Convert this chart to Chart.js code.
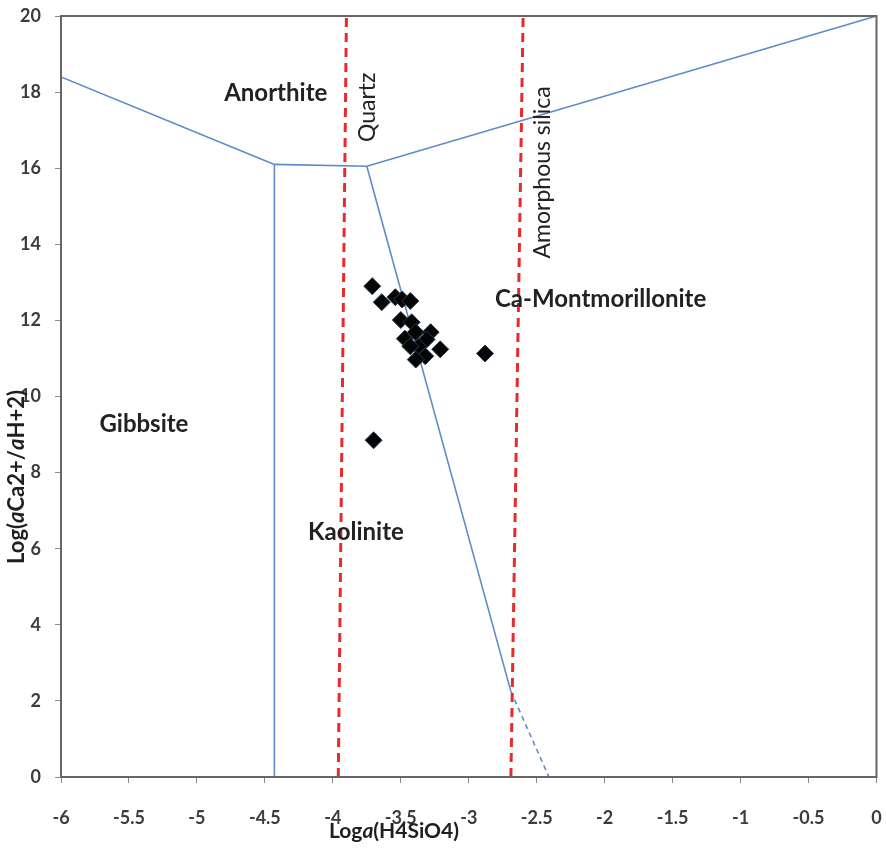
<!DOCTYPE html>
<html>
<head>
<meta charset="utf-8">
<title>Ca stability diagram</title>
<script src="https://cdn.jsdelivr.net/npm/chart.js@4.4.1/dist/chart.umd.min.js"></script>
<style>
  html, body { margin: 0; padding: 0; background: #ffffff; }
  #wrap { width: 886px; height: 848px; position: relative; }
</style>
</head>
<body>
<div id="wrap"><canvas id="mycanvas"></canvas></div>
<script>
// water samples: log a(H4SiO4) and log(aCa2+/aH+2)
var sampleSi = [-3.71, -3.64, -3.54, -3.49, -3.43, -3.50, -3.42, -3.47, -3.39, -3.28, -3.31, -3.37, -3.21, -3.32, -3.39, -3.43, -2.88, -3.70];
var sampleCa = [12.90, 12.48, 12.61, 12.55, 12.51, 12.01, 11.95, 11.52, 11.69, 11.69, 11.50, 11.31, 11.24, 11.06, 10.97, 11.32, 11.13, 8.85];

// phase boundaries (x = log a H4SiO4, y = log aCa/aH2)
var anorthiteGibbsiteX = [-6, -4.43];
var anorthiteGibbsiteY = [18.4, 16.1];
var gibbsiteKaoliniteX = [-4.43, -4.43];
var gibbsiteKaoliniteY = [16.1, 0];
var anorthiteKaoliniteX = [-4.43, -3.75];
var anorthiteKaoliniteY = [16.1, 16.05];
var anorthiteMontX = [-3.75, 0];
var anorthiteMontY = [16.05, 20];
var kaoliniteMontX = [-3.75, -2.69];
var kaoliniteMontY = [16.05, 2.25];
var kaoliniteMontExtX = [-2.69, -2.41];
var kaoliniteMontExtY = [2.25, 0];

// silica saturation lines
var quartzX = [-3.96, -3.90];
var quartzY = [0, 20];
var amorphousX = [-2.69, -2.60];
var amorphousY = [0, 20];

// field names
var fieldNames = ['Anorthite', 'Gibbsite', 'Kaolinite', 'Ca-Montmorillonite'];
var fieldX = [-4.42, -5.39, -3.83, -2.03];
var fieldY = [17.97, 9.26, 6.42, 12.55];
var silicaNames = ['Quartz', 'Amorphous silica'];
var silicaX = [-3.743, -2.456];
var silicaY = [17.60, 15.89];

function pts(xs, ys) {
  var out = [];
  for (var i in xs) {
    out.push({x: xs[i], y: ys[i]});
  }
  return out;
}

var BLUE = '#5f8bc8';
var RED = '#e82a2a';

function boundary(xs, ys, dashed) {
  return {
    type: 'line',
    data: pts(xs, ys),
    borderColor: BLUE,
    borderWidth: 1.6,
    borderDash: dashed ? [5, 4] : [],
    pointRadius: 0,
    fill: false,
    order: 2
  };
}

function silicaLine(xs, ys) {
  return {
    type: 'line',
    data: pts(xs, ys),
    borderColor: RED,
    borderWidth: 3,
    borderDash: [9, 6],
    pointRadius: 0,
    fill: false,
    order: 1
  };
}

// draws a run of text pieces, some in italic, centred on (cx, cy)
function drawPieces(ctx, pieces, cx, cy, size) {
  var total = 0;
  pieces.forEach(function(p) {
    ctx.font = (p[1] ? 'italic ' : '') + 'bold ' + size + 'px Lato';
    total += ctx.measureText(p[0]).width;
  });
  var x = cx - total / 2;
  ctx.textAlign = 'left';
  ctx.textBaseline = 'middle';
  pieces.forEach(function(p) {
    ctx.font = (p[1] ? 'italic ' : '') + 'bold ' + size + 'px Lato';
    ctx.fillText(p[0], x, cy);
    x += ctx.measureText(p[0]).width;
  });
}

var labelPlugin = {
  id: 'fieldLabels',
  afterDatasetsDraw: function(chart) {
    var ctx = chart.ctx;
    var xs = chart.scales.x, ys = chart.scales.y;
    var area = chart.chartArea;
    ctx.save();

    // frame around the plot
    ctx.strokeStyle = '#666666';
    ctx.lineWidth = 2;
    ctx.strokeRect(area.left, area.top, area.right - area.left, area.bottom - area.top);

    ctx.fillStyle = '#222222';
    ctx.textAlign = 'center';
    ctx.textBaseline = 'middle';
    ctx.font = 'bold 24px Lato';
    for (var i in fieldNames) {
      ctx.fillText(fieldNames[i], xs.getPixelForValue(fieldX[i]), ys.getPixelForValue(fieldY[i]));
    }

    ctx.font = '23px Lato';
    for (var j in silicaNames) {
      ctx.save();
      ctx.translate(xs.getPixelForValue(silicaX[j]), ys.getPixelForValue(silicaY[j]));
      ctx.rotate(-Math.PI / 2);
      ctx.fillText(silicaNames[j], 0, 0);
      ctx.restore();
    }

    // axis titles
    ctx.fillStyle = '#1f1f1f';
    drawPieces(ctx, [['Log', false], ['a', true], ['(H4SiO4)', false]], 394, 831, 21);
    ctx.save();
    ctx.translate(17, 477);
    ctx.rotate(-Math.PI / 2);
    drawPieces(ctx, [['Log(', false], ['a', true], ['Ca2+/', false], ['a', true], ['H+2)', false]], 0, 0, 22);
    ctx.restore();

    ctx.restore();
  }
};

function tickText(v) {
  return String(Math.round(v * 10) / 10);
}

var ctx = document.getElementById('mycanvas');

var chart = new Chart(ctx, {
  type: 'scatter',
  data: {
    datasets: [
      {
        label: 'Samples',
        data: pts(sampleSi, sampleCa),
        pointStyle: 'rectRot',
        pointRadius: 8.5,
        backgroundColor: '#050505',
        borderColor: '#2b3a55',
        borderWidth: 1,
        order: 0
      },
      silicaLine(quartzX, quartzY),
      silicaLine(amorphousX, amorphousY),
      boundary(anorthiteGibbsiteX, anorthiteGibbsiteY),
      boundary(gibbsiteKaoliniteX, gibbsiteKaoliniteY),
      boundary(anorthiteKaoliniteX, anorthiteKaoliniteY),
      boundary(anorthiteMontX, anorthiteMontY),
      boundary(kaoliniteMontX, kaoliniteMontY),
      boundary(kaoliniteMontExtX, kaoliniteMontExtY, true)
    ]
  },
  options: {
    responsive: true,
    maintainAspectRatio: false,
    animation: false,
    layout: { padding: { left: 0, right: 9, top: 16, bottom: 0 } },
    plugins: {
      legend: { display: false },
      tooltip: { enabled: false }
    },
    scales: {
      x: {
        type: 'linear',
        min: -6,
        max: 0,
        afterFit: function(scale) {
          scale.height = 71;
          scale.paddingLeft = 0;
          scale.paddingRight = 0;
        },
        ticks: {
          stepSize: 0.5,
          padding: 24,
          color: '#3c3c3c',
          font: { family: 'Lato', size: 18, weight: 'bold' },
          maxRotation: 0,
          callback: tickText
        },
        grid: { drawOnChartArea: false, drawTicks: true, tickLength: 6, color: '#888888' },
        border: { color: '#777777', width: 2 }
      },
      y: {
        type: 'linear',
        min: 0,
        max: 20,
        afterFit: function(scale) {
          scale.width = 61;
          scale.paddingTop = 0;
          scale.paddingBottom = 0;
        },
        ticks: {
          stepSize: 2,
          padding: 14,
          color: '#3c3c3c',
          font: { family: 'Lato', size: 18, weight: 'bold' },
          callback: tickText
        },
        grid: { drawOnChartArea: false, drawTicks: true, tickLength: 6, color: '#888888' },
        border: { color: '#777777', width: 2 }
      }
    }
  },
  plugins: [labelPlugin]
});
</script>
</body>
</html>
